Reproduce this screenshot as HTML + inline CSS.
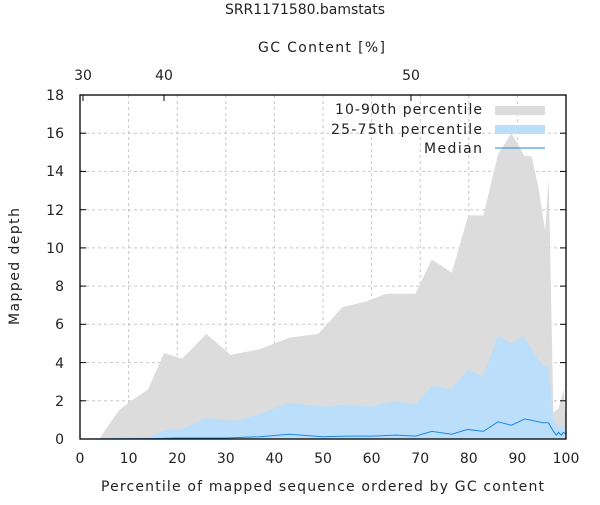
<!DOCTYPE html>
<html><head><style>
body{margin:0;background:#fff}
svg text{font-family:"DejaVu Sans","Liberation Sans",sans-serif;font-size:14px;fill:#222}
</style></head><body>
<svg width="600" height="500" viewBox="0 0 600 500" xmlns="http://www.w3.org/2000/svg">
<rect width="600" height="500" fill="#fff"/>
<g stroke="#c8c8c8" stroke-dasharray="3,3" stroke-width="1">
<line x1="128.6" y1="95" x2="128.6" y2="439"/><line x1="177.2" y1="95" x2="177.2" y2="439"/>
<line x1="225.8" y1="95" x2="225.8" y2="439"/><line x1="274.4" y1="95" x2="274.4" y2="439"/>
<line x1="323" y1="95" x2="323" y2="439"/><line x1="371.6" y1="95" x2="371.6" y2="439"/>
<line x1="420.2" y1="95" x2="420.2" y2="439"/><line x1="468.8" y1="95" x2="468.8" y2="439"/>
<line x1="517.4" y1="95" x2="517.4" y2="439"/>
<line x1="80" y1="400.8" x2="566" y2="400.8"/><line x1="80" y1="362.6" x2="566" y2="362.6"/>
<line x1="80" y1="324.3" x2="566" y2="324.3"/><line x1="80" y1="286.1" x2="566" y2="286.1"/>
<line x1="80" y1="247.9" x2="566" y2="247.9"/><line x1="80" y1="209.7" x2="566" y2="209.7"/>
<line x1="80" y1="171.4" x2="566" y2="171.4"/><line x1="80" y1="133.2" x2="566" y2="133.2"/>
</g>
<g transform="translate(80,439) scale(4.86,-19.11)">
<polygon fill="#dcdcdc" points="0,0 4,0 5,0.4 8,1.5 10,1.9 14,2.6 17.3,4.5 21,4.2 26,5.5 31,4.4 37,4.7 43,5.3 49,5.5 54,6.9 59,7.2 63,7.6 69,7.6 72.4,9.4 76.5,8.7 79.9,11.7 83,11.7 86,14.9 88.8,16 91.5,14.8 92.9,14.8 94.3,13.2 95.7,10.9 96.4,13.6 96.7,10.5 97.4,1.4 98.5,1.6 99.5,2.6 100,1 100,0"/>
<polygon fill="#bbdefb" points="3.3,0 10.6,0.1 14.4,0.1 17.5,0.47 21.3,0.55 26,1.1 31.9,0.95 37,1.3 42.8,1.9 46,1.8 50,1.7 55,1.8 60,1.7 65,2.0 69,1.8 72.4,2.8 76.5,2.6 79.7,3.6 83,3.3 86,5.4 88.8,5.0 91.2,5.4 95.3,3.8 96.4,3.8 97.4,1.0 98.5,0.6 99.5,0.7 100,0.5 100,0"/>
<polyline fill="none" stroke="#1e88e5" stroke-width="1" vector-effect="non-scaling-stroke" points="0,0 15,0.02 20,0.05 30,0.05 37,0.12 43,0.25 50,0.12 55,0.15 60,0.15 65,0.2 69,0.15 72.4,0.4 76.5,0.25 79.7,0.5 83,0.4 86,0.9 88.8,0.72 91.5,1.05 95.3,0.85 96.4,0.85 97.4,0.4 98,0.2 98.5,0.35 99,0.2 99.5,0.35 100,0.25"/>
</g>
<rect x="80" y="95" width="486" height="344" fill="none" stroke="#000" stroke-width="1.3"/>
<g stroke="#000" stroke-width="1">
<line x1="80" y1="400.8" x2="86" y2="400.8"/><line x1="80" y1="362.6" x2="86" y2="362.6"/>
<line x1="80" y1="324.3" x2="86" y2="324.3"/><line x1="80" y1="286.1" x2="86" y2="286.1"/>
<line x1="80" y1="247.9" x2="86" y2="247.9"/><line x1="80" y1="209.7" x2="86" y2="209.7"/>
<line x1="80" y1="171.4" x2="86" y2="171.4"/><line x1="80" y1="133.2" x2="86" y2="133.2"/>
<line x1="566" y1="400.8" x2="560" y2="400.8"/><line x1="566" y1="362.6" x2="560" y2="362.6"/>
<line x1="566" y1="324.3" x2="560" y2="324.3"/><line x1="566" y1="286.1" x2="560" y2="286.1"/>
<line x1="566" y1="247.9" x2="560" y2="247.9"/><line x1="566" y1="209.7" x2="560" y2="209.7"/>
<line x1="566" y1="171.4" x2="560" y2="171.4"/><line x1="566" y1="133.2" x2="560" y2="133.2"/>
<line x1="83" y1="95" x2="83" y2="101"/><line x1="164" y1="95" x2="164" y2="101"/><line x1="411" y1="95" x2="411" y2="101"/>
</g>
<g text-anchor="end" style="font-size:15px">
<text x="64" y="444">0</text><text x="64" y="406">2</text><text x="64" y="368">4</text>
<text x="64" y="329">6</text><text x="64" y="291">8</text><text x="64" y="253">10</text>
<text x="64" y="215">12</text><text x="64" y="176">14</text><text x="64" y="138">16</text>
<text x="64" y="100">18</text>
</g>
<g text-anchor="middle" style="font-size:15px">
<text x="80" y="463">0</text><text x="128.6" y="463">10</text><text x="177.2" y="463">20</text>
<text x="225.8" y="463">30</text><text x="274.4" y="463">40</text><text x="323" y="463">50</text>
<text x="371.6" y="463">60</text><text x="420.2" y="463">70</text><text x="468.8" y="463">80</text>
<text x="517.4" y="463">90</text><text x="566" y="463">100</text>
<text x="83" y="80">30</text><text x="164" y="80">40</text><text x="411" y="80">50</text>
</g>
<text x="225" y="14" textLength="160" lengthAdjust="spacing">SRR1171580.bamstats</text>
<text x="258" y="52" textLength="127" lengthAdjust="spacing">GC Content [%]</text>
<text x="101" y="491" textLength="443" lengthAdjust="spacing">Percentile of mapped sequence ordered by GC content</text>
<text transform="translate(19,325) rotate(-90)" textLength="117" lengthAdjust="spacing">Mapped depth</text>
<text x="335" y="114" textLength="147" lengthAdjust="spacing">10-90th percentile</text>
<text x="331" y="134" textLength="151" lengthAdjust="spacing">25-75th percentile</text>
<text x="424" y="153" textLength="58" lengthAdjust="spacing">Median</text>
<rect x="495" y="106" width="50" height="9" fill="#dcdcdc"/>
<rect x="495" y="125" width="50" height="9" fill="#bbdefb"/>
<line x1="495" y1="148" x2="545" y2="148" stroke="#1e88e5" stroke-width="1"/>
</svg>
</body></html>
